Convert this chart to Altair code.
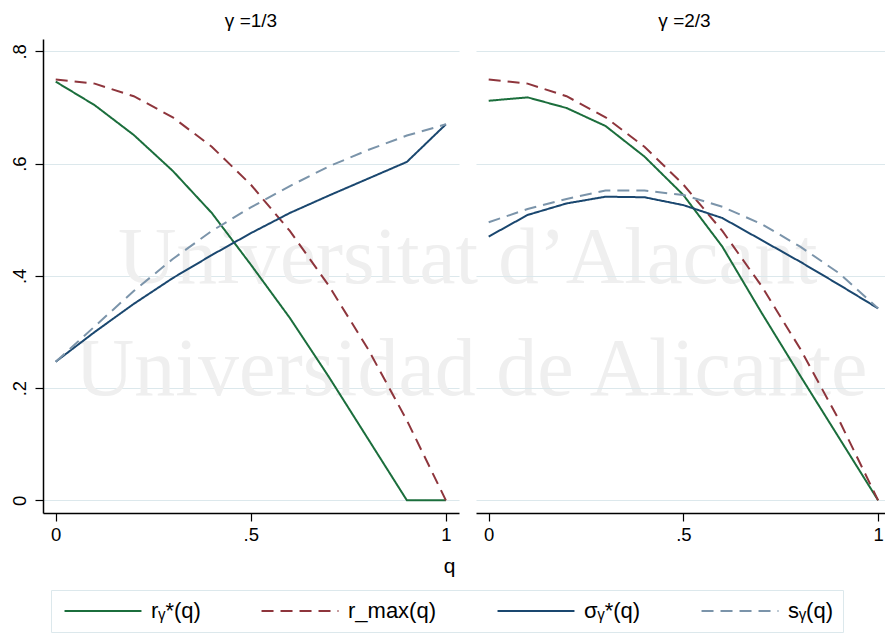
import altair as alt
import pandas as pd

# ---------------- data ----------------
q = [0.0, 0.1, 0.2, 0.3, 0.4, 0.5, 0.6, 0.7, 0.8, 0.9, 1.0]
panels = ["γ =1/3", "γ =2/3"]
series = ["rᵧ*(q)", "r_max(q)", "σᵧ*(q)", "sᵧ(q)"]

r_star_13 = [0.746, 0.704, 0.651, 0.587, 0.512, 0.420, 0.325, 0.220, 0.110, 0.0, 0.0]
r_max_13 = [0.750, 0.7425, 0.720, 0.6825, 0.630, 0.5625, 0.480, 0.3825, 0.270, 0.1425, 0.0]
sigma_13 = [0.247, 0.300, 0.350, 0.396, 0.437, 0.476, 0.512, 0.543, 0.573, 0.603, 0.670]
s_13 = [0.247, 0.310, 0.373, 0.430, 0.480, 0.522, 0.560, 0.595, 0.624, 0.650, 0.670]

r_star_23 = [0.712, 0.718, 0.699, 0.667, 0.6125, 0.544, 0.452, 0.335, 0.222, 0.111, 0.0]
r_max_23 = [0.750, 0.7425, 0.720, 0.6825, 0.630, 0.5625, 0.480, 0.3825, 0.270, 0.1425, 0.0]
sigma_23 = [0.470, 0.5085, 0.529, 0.541, 0.540, 0.526, 0.503, 0.464, 0.425, 0.384, 0.342]
s_23 = [0.4955, 0.519, 0.537, 0.552, 0.552, 0.544, 0.523, 0.4925, 0.452, 0.4046, 0.342]

y_ticks = [0, 0.2, 0.4, 0.6, 0.8]
x_ticks = [0, 0.5, 1]
watermark_lines = ["Universitat d\u2019Alacant", "Universidad de Alicante"]

colors = ["#1b6e3c", "#8e353c", "#1a476f", "#7b94aa"]
dashes = [[1, 0], [12, 7], [1, 0], [12, 7]]

FONT = "Liberation Sans"
GRID = "#dce8ec"


def long_df(vals):
    rows = []
    for name, v in zip(series, vals):
        for qq, yy in zip(q, v):
            rows.append({"q": qq, "value": yy, "series": name})
    return pd.DataFrame(rows)


df_left = long_df([r_star_13, r_max_13, sigma_13, s_13])
df_right = long_df([r_star_23, r_max_23, sigma_23, s_23])

# wide, flat legend key: a custom path scaled by sqrt(symbolSize)/2
legend = alt.Legend(
    title=None, orient="none", legendX=8, legendY=551,
    direction="horizontal", columns=4,
    symbolType="M-4.05,0L4.05,0", symbolSize=361, symbolStrokeWidth=2,
    symbolOffset=31,
    labelFontSize=22, labelFont=FONT, labelColor="black", labelOffset=37,
    strokeColor=GRID, padding=10, columnPadding=56,
)

y_dom = [-0.0226, 0.822]


def panel(df, title, width, left):
    x_dom = [-0.0326, 1.0336] if left else [-0.0326, 1.0177]
    x_axis = alt.Axis(
        values=x_ticks,
        labelExpr="datum.value == 0 ? '0' : (datum.value == 1 ? '1' : '.5')",
        tickSize=8, tickColor="black", tickWidth=1.2, domainColor="black", domainWidth=1.5,
        labelFontSize=18.5, labelFont=FONT, labelColor="black", labelPadding=4, grid=False,
        title="q" if left else None, titleFontSize=21, titleFont=FONT, titleFontWeight="normal",
        titleColor="black", titleX=406, titleY=59, titleAlign="center",
        titleBaseline="alphabetic",
    )
    if left:
        y_axis = alt.Axis(
            values=y_ticks,
            labelExpr="datum.value == 0 ? '0' : substring(format(datum.value, '.1f'), 1)",
            labelAngle=270, labelAlign="center", labelBaseline="bottom",
            labelFontSize=18.5, labelFont=FONT, labelColor="black", labelPadding=6,
            tickSize=8, tickColor="black", tickWidth=1.2, domainColor="black", domainWidth=1.5,
            gridColor=GRID, gridWidth=1.2, title=None,
        )
    else:
        y_axis = alt.Axis(values=y_ticks, labels=False, ticks=False, domain=False,
                          gridColor=GRID, gridWidth=1.2, title=None)

    lines = alt.Chart(df).mark_line(strokeWidth=2, clip=True).encode(
        x=alt.X("q:Q", scale=alt.Scale(domain=x_dom, nice=False, zero=False), axis=x_axis),
        y=alt.Y("value:Q", scale=alt.Scale(domain=y_dom, nice=False, zero=False), axis=y_axis),
        color=alt.Color("series:N", sort=series,
                        scale=alt.Scale(domain=series, range=colors), legend=legend),
        strokeDash=alt.StrokeDash("series:N", sort=series,
                                  scale=alt.Scale(domain=series, range=dashes), legend=legend),
    )
    layers = []
    if left:
        wm = pd.DataFrame({"t": watermark_lines})
        wm1 = alt.Chart(wm).transform_filter(alt.datum.t == watermark_lines[0]).mark_text(
            font="Liberation Serif", fontSize=81, color="#efefef", align="left",
            baseline="alphabetic").encode(x=alt.value(75), y=alt.value(244), text="t:N")
        wm2 = alt.Chart(wm).transform_filter(alt.datum.t == watermark_lines[1]).mark_text(
            font="Liberation Serif", fontSize=82, color="#efefef", align="left",
            baseline="alphabetic").encode(x=alt.value(32), y=alt.value(356), text="t:N")
        layers = [wm1, wm2]
    return alt.layer(*layers, lines).properties(
        width=width, height=474,
        title=alt.TitleParams(title, fontSize=19, font=FONT, fontWeight="normal",
                              color="black", anchor="middle", offset=8,
                              dx=0 if left else 4),
    )


chart = alt.hconcat(
    panel(df_left, panels[0], 416, True),
    panel(df_right, panels[1], 409, False),
    spacing=17, bounds="flush",
).properties(
    padding={"left": 10, "top": 12, "right": 0, "bottom": 0},
    background="white",
).configure_view(stroke=None)

chart.save("out.html", embed_options={"renderer": "svg", "actions": False})
